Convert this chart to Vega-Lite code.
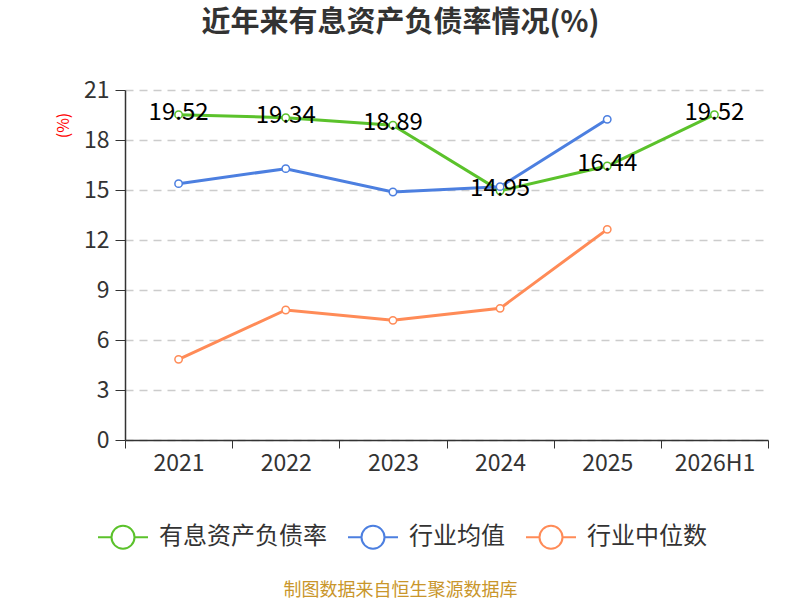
{
  "$schema": "https://vega.github.io/schema/vega-lite/v6.json",
  "autosize": "none",
  "width": 643,
  "height": 350,
  "padding": {"left": 125, "top": 90, "right": 32, "bottom": 160},
  "background": "white",
  "config": {
    "font": "Noto Sans CJK SC",
    "view": {"stroke": null}
  },
  "title": {
    "text": "近年来有息资产负债率情况(%)",
    "fontSize": 29,
    "fontWeight": "bold",
    "color": "#333333",
    "anchor": "middle",
    "frame": "group",
    "baseline": "middle",
    "dx": -46,
    "offset": 27
  },
  "data": {
    "values": [
      {"year": "2021", "series": "有息资产负债率", "value": 19.52},
      {"year": "2022", "series": "有息资产负债率", "value": 19.34},
      {"year": "2023", "series": "有息资产负债率", "value": 18.89},
      {"year": "2024", "series": "有息资产负债率", "value": 14.95},
      {"year": "2025", "series": "有息资产负债率", "value": 16.44},
      {"year": "2026H1", "series": "有息资产负债率", "value": 19.52},
      {"year": "2021", "series": "行业均值", "value": 15.38},
      {"year": "2022", "series": "行业均值", "value": 16.28},
      {"year": "2023", "series": "行业均值", "value": 14.88},
      {"year": "2024", "series": "行业均值", "value": 15.2},
      {"year": "2025", "series": "行业均值", "value": 19.24},
      {"year": "2021", "series": "行业中位数", "value": 4.84},
      {"year": "2022", "series": "行业中位数", "value": 7.8},
      {"year": "2023", "series": "行业中位数", "value": 7.18},
      {"year": "2024", "series": "行业中位数", "value": 7.9},
      {"year": "2025", "series": "行业中位数", "value": 12.64}
    ]
  },
  "encoding": {
    "x": {
      "field": "year",
      "type": "ordinal",
      "scale": {"type": "band", "paddingInner": 0, "paddingOuter": 0},
      "bandPosition": 0.5,
      "axis": {
        "title": "制图数据来自恒生聚源数据库",
        "titleFontSize": 18,
        "titleFontWeight": "normal",
        "titleColor": "#C9962B",
        "titleX": 275,
        "titleY": 150,
        "titleBaseline": "middle",
        "labelAngle": 0,
        "labelFontSize": 23,
        "labelColor": "#333333",
        "labelPadding": 4,
        "tickBand": "extent",
        "tickSize": 8,
        "tickColor": "#333333",
        "domainColor": "#333333",
        "domainWidth": 1.5,
        "grid": false
      }
    },
    "y": {
      "field": "value",
      "type": "quantitative",
      "scale": {"domain": [0, 21], "nice": false},
      "axis": {
        "title": "(%)",
        "titleColor": "#FF0000",
        "titleFontSize": 16,
        "titleFontWeight": "normal",
        "titleAngle": -90,
        "titleX": -62,
        "titleY": 35,
        "titleAlign": "center",
        "titleBaseline": "middle",
        "values": [0, 3, 6, 9, 12, 15, 18, 21],
        "labelFontSize": 23,
        "labelColor": "#333333",
        "labelPadding": 6,
        "tickSize": 10,
        "tickColor": "#333333",
        "domainColor": "#333333",
        "domainWidth": 1.5,
        "gridColor": "#CCCCCC",
        "gridDash": [8, 6],
        "gridWidth": 1.5
      }
    }
  },
  "layer": [
    {
      "mark": {
        "type": "line",
        "strokeWidth": 3,
        "point": {"filled": false, "fill": "white", "size": 55, "strokeWidth": 1.5}
      },
      "encoding": {
        "color": {
          "field": "series",
          "type": "nominal",
          "scale": {
            "domain": ["有息资产负债率", "行业均值", "行业中位数"],
            "range": ["#5BC22B", "#4C7FE0", "#FF8B57"]
          },
          "legend": {
            "title": null,
            "orient": "none",
            "direction": "horizontal",
            "legendX": -28,
            "legendY": 421,
            "labelFontSize": 24,
            "labelLimit": 400,
            "labelColor": "#333333",
            "labelOffset": 10,
            "columnPadding": 17,
            "symbolType": "M-1,0L-0.46,0M0.46,0L1,0M0.46,0A0.46,0.46 0 1,1 -0.46,0A0.46,0.46 0 1,1 0.46,0",
            "symbolSize": 2500,
            "symbolStrokeWidth": 2,
            "symbolFillColor": "white"
          }
        }
      }
    },
    {
      "transform": [{"filter": "datum.series === '有息资产负债率'"}],
      "mark": {"type": "text", "fontSize": 24, "color": "#000000", "baseline": "middle", "dy": -2},
      "encoding": {"text": {"field": "value", "type": "quantitative", "format": ".2f"}}
    }
  ]
}
